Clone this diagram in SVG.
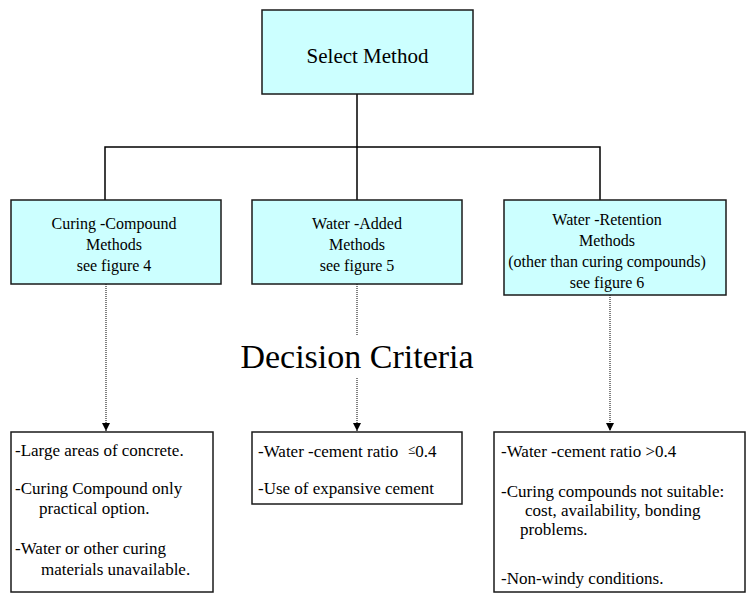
<svg xmlns="http://www.w3.org/2000/svg" width="746" height="593" viewBox="0 0 746 593">
<style>
.box{fill:#CCFFFF;stroke:#1a1a1a;stroke-width:1.5}
.wbox{fill:#FFFFFF;stroke:#1a1a1a;stroke-width:1.5}
.t{font-family:"Liberation Serif","Times New Roman",serif;fill:#000}
.c{text-anchor:middle;font-size:16px}
.b{font-size:17px}
.solid{fill:none;stroke:#000;stroke-width:1.5}
.dot{fill:none;stroke:#000;stroke-width:1;stroke-dasharray:1 1}
</style>
<defs>
<marker id="arr" markerWidth="8" markerHeight="8" refX="8" refY="4" orient="auto" markerUnits="userSpaceOnUse">
<path d="M0,0 L8,4 L0,8 Z" fill="#000"/>
</marker>
</defs>
<rect width="746" height="593" fill="#fff"/>
<g id="connectors">
<path class="solid" d="M357,94 V200 M105,200 V147 H600 V200"/>
<path class="dot" d="M106,284 V431" marker-end="url(#arr)"/>
<path class="dot" d="M357,284 V335 M357,378 V431" marker-end="url(#arr)"/>
<path class="dot" d="M610,295 V431" marker-end="url(#arr)"/>
</g>
<g id="select">
<rect class="box" x="262" y="10" width="211" height="84"/>
<text class="t" x="367.5" y="63" text-anchor="middle" font-size="21">Select Method</text>
</g>
<g id="curing">
<rect class="box" x="11" y="200" width="210" height="84"/>
<text class="t c"><tspan x="114" y="229">Curing -Compound</tspan><tspan x="114" y="250">Methods</tspan><tspan x="114" y="271">see figure 4</tspan></text>
</g>
<g id="water-added">
<rect class="box" x="252" y="200" width="210" height="84"/>
<text class="t c"><tspan x="357" y="229">Water -Added</tspan><tspan x="357" y="250">Methods</tspan><tspan x="357" y="271">see figure 5</tspan></text>
</g>
<g id="water-retention">
<rect class="box" x="504" y="200" width="222" height="95"/>
<text class="t c"><tspan x="607" y="225">Water -Retention</tspan><tspan x="607" y="246">Methods</tspan><tspan x="607" y="267">(other than curing compounds)</tspan><tspan x="607" y="288">see figure 6</tspan></text>
</g>
<g id="decision-criteria">
<text class="t" x="357" y="368" text-anchor="middle" font-size="34">Decision Criteria</text>
</g>
<g id="criteria-curing">
<rect class="wbox" x="11" y="432" width="202" height="160"/>
<text class="t b"><tspan x="15" y="456">-Large areas of concrete.</tspan><tspan x="15" y="494">-Curing Compound only</tspan><tspan x="39" y="514">practical option.</tspan><tspan x="15" y="554">-Water or other curing</tspan><tspan x="41" y="575">materials unavailable.</tspan></text>
</g>
<g id="criteria-added">
<rect class="wbox" x="252" y="432" width="210" height="72"/>
<text class="t b"><tspan x="258" y="457">-Water -cement ratio</tspan><tspan x="408" y="454" font-size="13">≤</tspan><tspan y="457">0.4</tspan><tspan x="258" y="494">-Use of expansive cement</tspan></text>
</g>
<g id="criteria-retention">
<rect class="wbox" x="494" y="432" width="251" height="160"/>
<text class="t b"><tspan x="501" y="457">-Water -cement ratio &gt;0.4</tspan><tspan x="501" y="497">-Curing compounds not suitable:</tspan><tspan x="525" y="516">cost, availability, bonding</tspan><tspan x="520" y="535">problems.</tspan><tspan x="501" y="584">-Non-windy conditions.</tspan></text>
</g>
</svg>
